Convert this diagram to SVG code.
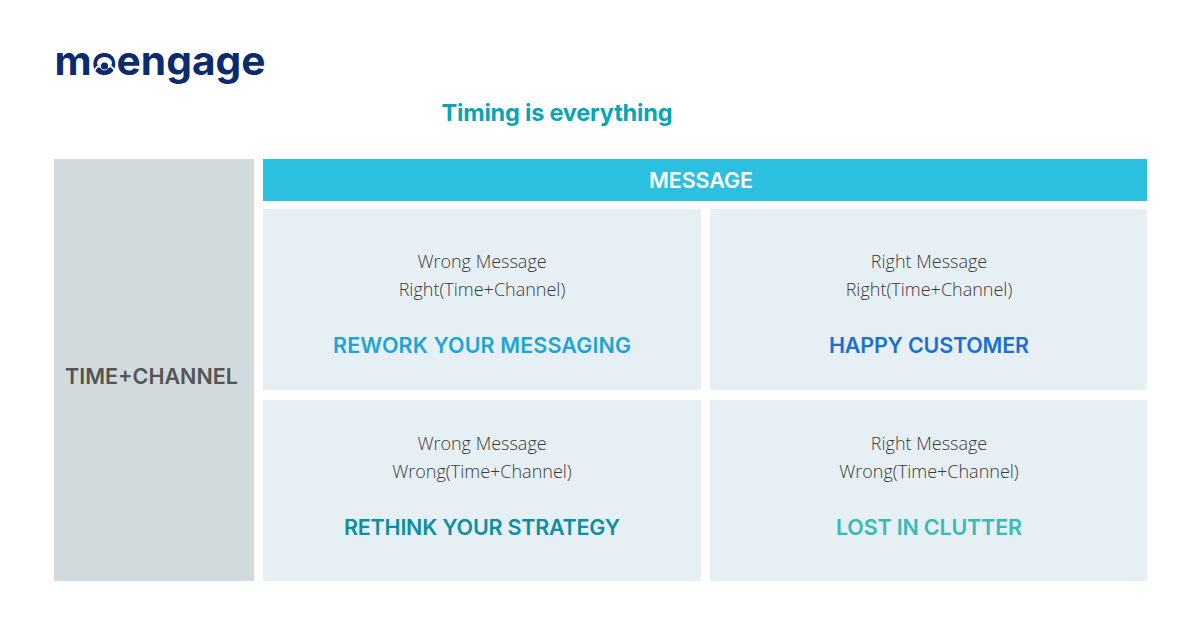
<svg xmlns="http://www.w3.org/2000/svg" width="1200" height="628" viewBox="0 0 1200 628">
<style>
.h{font-family:"Inter","Liberation Sans",sans-serif;font-weight:600;text-anchor:middle;font-size:21.5px}
.b{font-family:"Open Sans","Liberation Sans",sans-serif;font-weight:300;font-size:18px;fill:#3a3a3a;text-anchor:middle}
.c{fill:#e6eff4}
</style>
<rect width="1200" height="628" fill="#fff"/>
<g id="logo">
<text x="54.500" y="75" font-family="Inter,'Liberation Sans',sans-serif" font-weight="750" font-size="40" fill="#0c2a6e" textLength="211" lengthAdjust="spacingAndGlyphs">moengage</text>
<ellipse cx="104.500" cy="63" rx="7.500" ry="6" fill="#fff"/>
<path d="M94 71Q98 64.500 100 67M115 71Q111 64.500 109 67" fill="none" stroke="#fff" stroke-width="1.800"/>
<circle cx="104.500" cy="66" r="3.600" fill="#0c2a6e"/>
</g>
<text id="title" class="h" x="557" y="121" style="font-size:23.5px;font-weight:650" textLength="231" fill="#0aa5b5">Timing is everything</text>
<g id="time-channel"><rect x="54" y="159" width="200" height="422" fill="#d1dadc"/><text class="h" x="151.500" y="384" textLength="173" fill="#555">TIME+CHANNEL</text></g>
<g id="message"><rect x="263" y="159" width="884" height="42" fill="#2bc0df"/><text class="h" x="701" y="188" textLength="104" fill="#fff">MESSAGE</text></g>
<g id="cell-wrong-right"><rect class="c" x="263" y="209" width="438" height="181"/><text class="b" x="482" y="268">Wrong Message</text><text class="b" x="482" y="296">Right(Time+Channel)</text><text class="h" x="482" y="353" textLength="298" fill="#1fa5d3">REWORK YOUR MESSAGING</text></g>
<g id="cell-right-right"><rect class="c" x="710" y="209" width="437" height="181"/><text class="b" x="929" y="268">Right Message</text><text class="b" x="929" y="296">Right(Time+Channel)</text><text class="h" x="929" y="353" textLength="200" fill="#1c6fd0">HAPPY CUSTOMER</text></g>
<g id="cell-wrong-wrong"><rect class="c" x="263" y="400" width="438" height="181"/><text class="b" x="482" y="450">Wrong Message</text><text class="b" x="482" y="478">Wrong(Time+Channel)</text><text class="h" x="482" y="535" textLength="276" fill="#0b8fa3">RETHINK YOUR STRATEGY</text></g>
<g id="cell-right-wrong"><rect class="c" x="710" y="400" width="437" height="181"/><text class="b" x="929" y="450">Right Message</text><text class="b" x="929" y="478">Wrong(Time+Channel)</text><text class="h" x="929" y="535" textLength="186" fill="#3bbab5">LOST IN CLUTTER</text></g>
</svg>
